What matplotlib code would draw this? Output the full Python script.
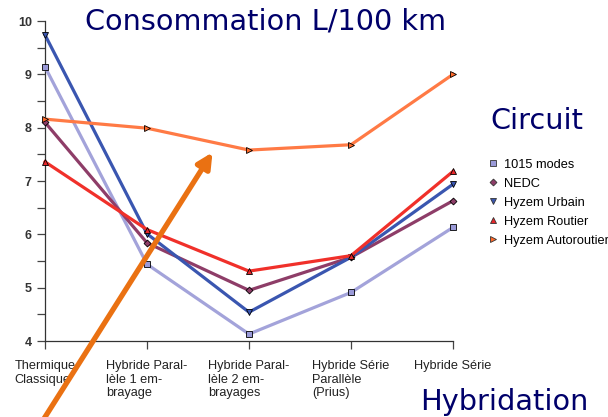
import matplotlib
matplotlib.use("Agg")
import matplotlib.pyplot as plt
from matplotlib.lines import Line2D
from matplotlib.ticker import MultipleLocator

categories = ["Thermique\nClassique", "Hybride Paral-\nlèle 1 em-\nbrayage",
              "Hybride Paral-\nlèle 2 em-\nbrayages", "Hybride Série\nParallèle\n(Prius)",
              "Hybride Série"]
modes_1015 = [9.14, 5.44, 4.13, 4.91, 6.13]
nedc = [8.10, 5.84, 4.95, 5.57, 6.63]
hyzem_urbain = [9.74, 6.01, 4.54, 5.57, 6.94]
hyzem_routier = [7.36, 6.09, 5.31, 5.60, 7.18]
hyzem_autoroutier = [8.16, 7.99, 7.58, 7.68, 9.00]

series = [
    ("1015 modes", modes_1015, "#a3a3da", "#9a9ad8", "s"),
    ("NEDC", nedc, "#8e3d68", "#8e3d68", "D"),
    ("Hyzem Urbain", hyzem_urbain, "#3a56b0", "#3a56b0", "v"),
    ("Hyzem Routier", hyzem_routier, "#f0302a", "#e8262a", "^"),
    ("Hyzem Autoroutier", hyzem_autoroutier, "#ff7a45", "#ff6a2a", ">"),
]

fig = plt.figure(figsize=(6.08, 4.17), dpi=100)
ax = fig.add_axes([45 / 608, 1 - 341 / 417, 408 / 608, 320 / 417])

x = list(range(len(categories)))
handles = []
for name, vals, lc, mc, mk in series:
    ms = 4 if mk != "D" else 3.5
    ax.plot(x, vals, color=lc, lw=2.3, marker=mk, ms=ms, mfc=mc, mec="black",
            mew=0.6, clip_on=False, zorder=3)
    handles.append(Line2D([], [], ls="none", marker=mk, ms=ms, mfc=mc, mec="#333333",
                          mew=0.6, label=name))

ax.set_xlim(0, 4)
ax.set_ylim(4, 10)
ax.yaxis.set_major_locator(MultipleLocator(1))
ax.yaxis.set_minor_locator(MultipleLocator(0.5))
ax.set_xticks(x)
ax.set_xticklabels(categories, family="Liberation Sans", fontsize=9.2,
                   multialignment="left", linespacing=1.15, color="#222222")
for lab in ax.get_yticklabels():
    lab.set_family("Liberation Sans")
    lab.set_fontweight("bold")
    lab.set_fontsize(9)
    lab.set_color("#333333")
ax.tick_params(axis="both", which="both", length=6, width=0.9, color="#444444")
ax.tick_params(axis="x", pad=8)
for s in ["top", "right"]:
    ax.spines[s].set_visible(False)
for s in ["left", "bottom"]:
    ax.spines[s].set_color("#333333")
    ax.spines[s].set_linewidth(0.9)

leg = fig.legend(handles=handles, loc="upper left", bbox_to_anchor=(476 / 608, 1 - 147 / 417),
                 frameon=False, handlelength=0.8, handletextpad=0.5, labelspacing=0.55,
                 prop={"family": "Liberation Sans", "size": 9.2})

fig.text(85 / 608, 1 - 22 / 417, "Consommation L/100 km", fontsize=20.7, color="#00006a",
         va="center", ha="left")
fig.text(490 / 608, 1 - 121 / 417, "Circuit", fontsize=20.7, color="#00006a",
         va="center", ha="left")
fig.text(420 / 608, 1 - 402 / 417, "Hybridation", fontsize=20.7, color="#00006a",
         va="center", ha="left")

ax.annotate("", xy=(214 / 608, 1 - 150 / 417), xycoords="figure fraction",
            xytext=(40 / 608, 1 - 425 / 417), textcoords="figure fraction",
            arrowprops=dict(arrowstyle="-|>,head_length=0.9,head_width=0.45",
                            color="#ea7112", lw=3.8), zorder=5)

fig.savefig("out.png", dpi=100)
